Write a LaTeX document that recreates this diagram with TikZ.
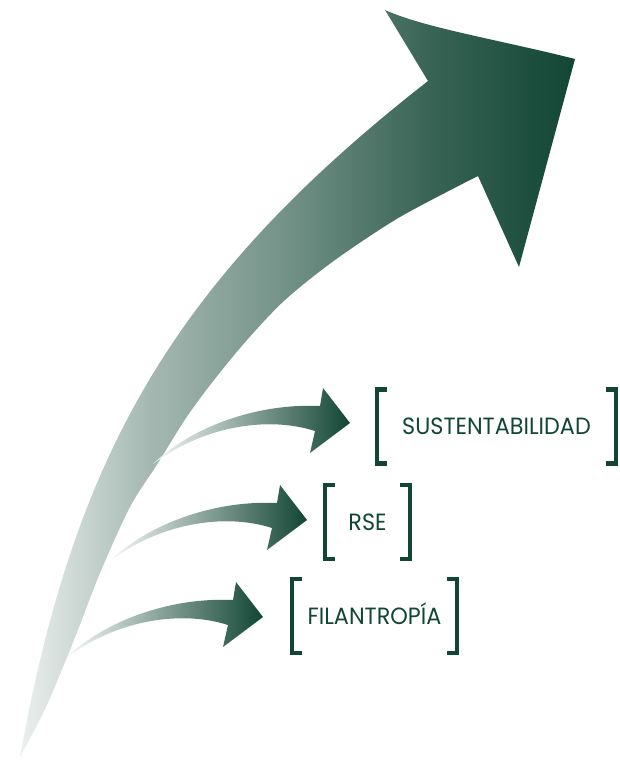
\documentclass[tikz,border=0pt]{standalone}
\usepackage{fontspec}
\usepackage{tikz}
\newfontfamily\labelfont[FakeStretch=0.95]{Poppins}
\definecolor{arrowgreen}{RGB}{18,70,52}
\pgfdeclarehorizontalshading{bigfade}{100bp}{color(0bp)=(arrowgreen!8); color(25bp)=(arrowgreen!8); color(36.5bp)=(arrowgreen!38); color(50bp)=(arrowgreen!61); color(62bp)=(arrowgreen!84); color(75bp)=(arrowgreen); color(100bp)=(arrowgreen)}

\begin{document}
\begin{tikzpicture}[x=1pt,y=-1pt]
        \tikzstyle{label box}=[minimum height=73.5pt,inner sep=0pt,text height=16.2pt,text depth=0pt,text=arrowgreen,font=\labelfont\fontsize{23.5pt}{23.5pt}\selectfont]
        \tikzstyle{bracket}=[draw=arrowgreen,line width=4.5pt]
        \tikzstyle{small arrow}=[left color=arrowgreen!4,right color=arrowgreen]
        \useasboundingbox (0,0) rectangle (619,760);

        % big arrow
        \shade[shading=bigfade] (20,757) .. controls (74,457) and (172,281) .. (428,81)
            -- (385,10) .. controls (425,28) and (500,40) .. (575,59) -- (519,267) -- (478,176)
            -- plot[smooth] coordinates {(478,176) (400,217) (335,260) (285,300) (247,340) (214,380) (186,418) (158,463) (130,507) (100,573) (74,640) (46,707) (20,757)} -- cycle;

        % small arrows
        \foreach \tipx/\tipy in {350/423,307/520,263/617}
            \shade[small arrow,shift={(\tipx,\tipy)}] (-197,41) .. controls (-160,5) and (-95,-20) .. (-30,-17) -- (-27,-35) -- (0,0) -- (-40,30) -- (-35,8) .. controls (-85,-8) and (-150,5) .. (-197,41) -- cycle;

        \node[label box,minimum width=238.5pt] (sust) at (496.5,426.5) {SUSTENTABILIDAD};
        \node[label box,minimum width=84.5pt] (rse) at (367.5,522) {RSE};
        \node[label box,minimum width=164.5pt] (fil) at (374.5,616) {FILANTROPÍA};

        \foreach \n in {sust,rse,fil} {
            \draw[bracket] ([xshift=10pt]\n.north west) -- (\n.north west) -- (\n.south west) -- ([xshift=10pt]\n.south west);
            \draw[bracket] ([xshift=-10pt]\n.north east) -- (\n.north east) -- (\n.south east) -- ([xshift=-10pt]\n.south east);
        }
    \end{tikzpicture}
\end{document}
